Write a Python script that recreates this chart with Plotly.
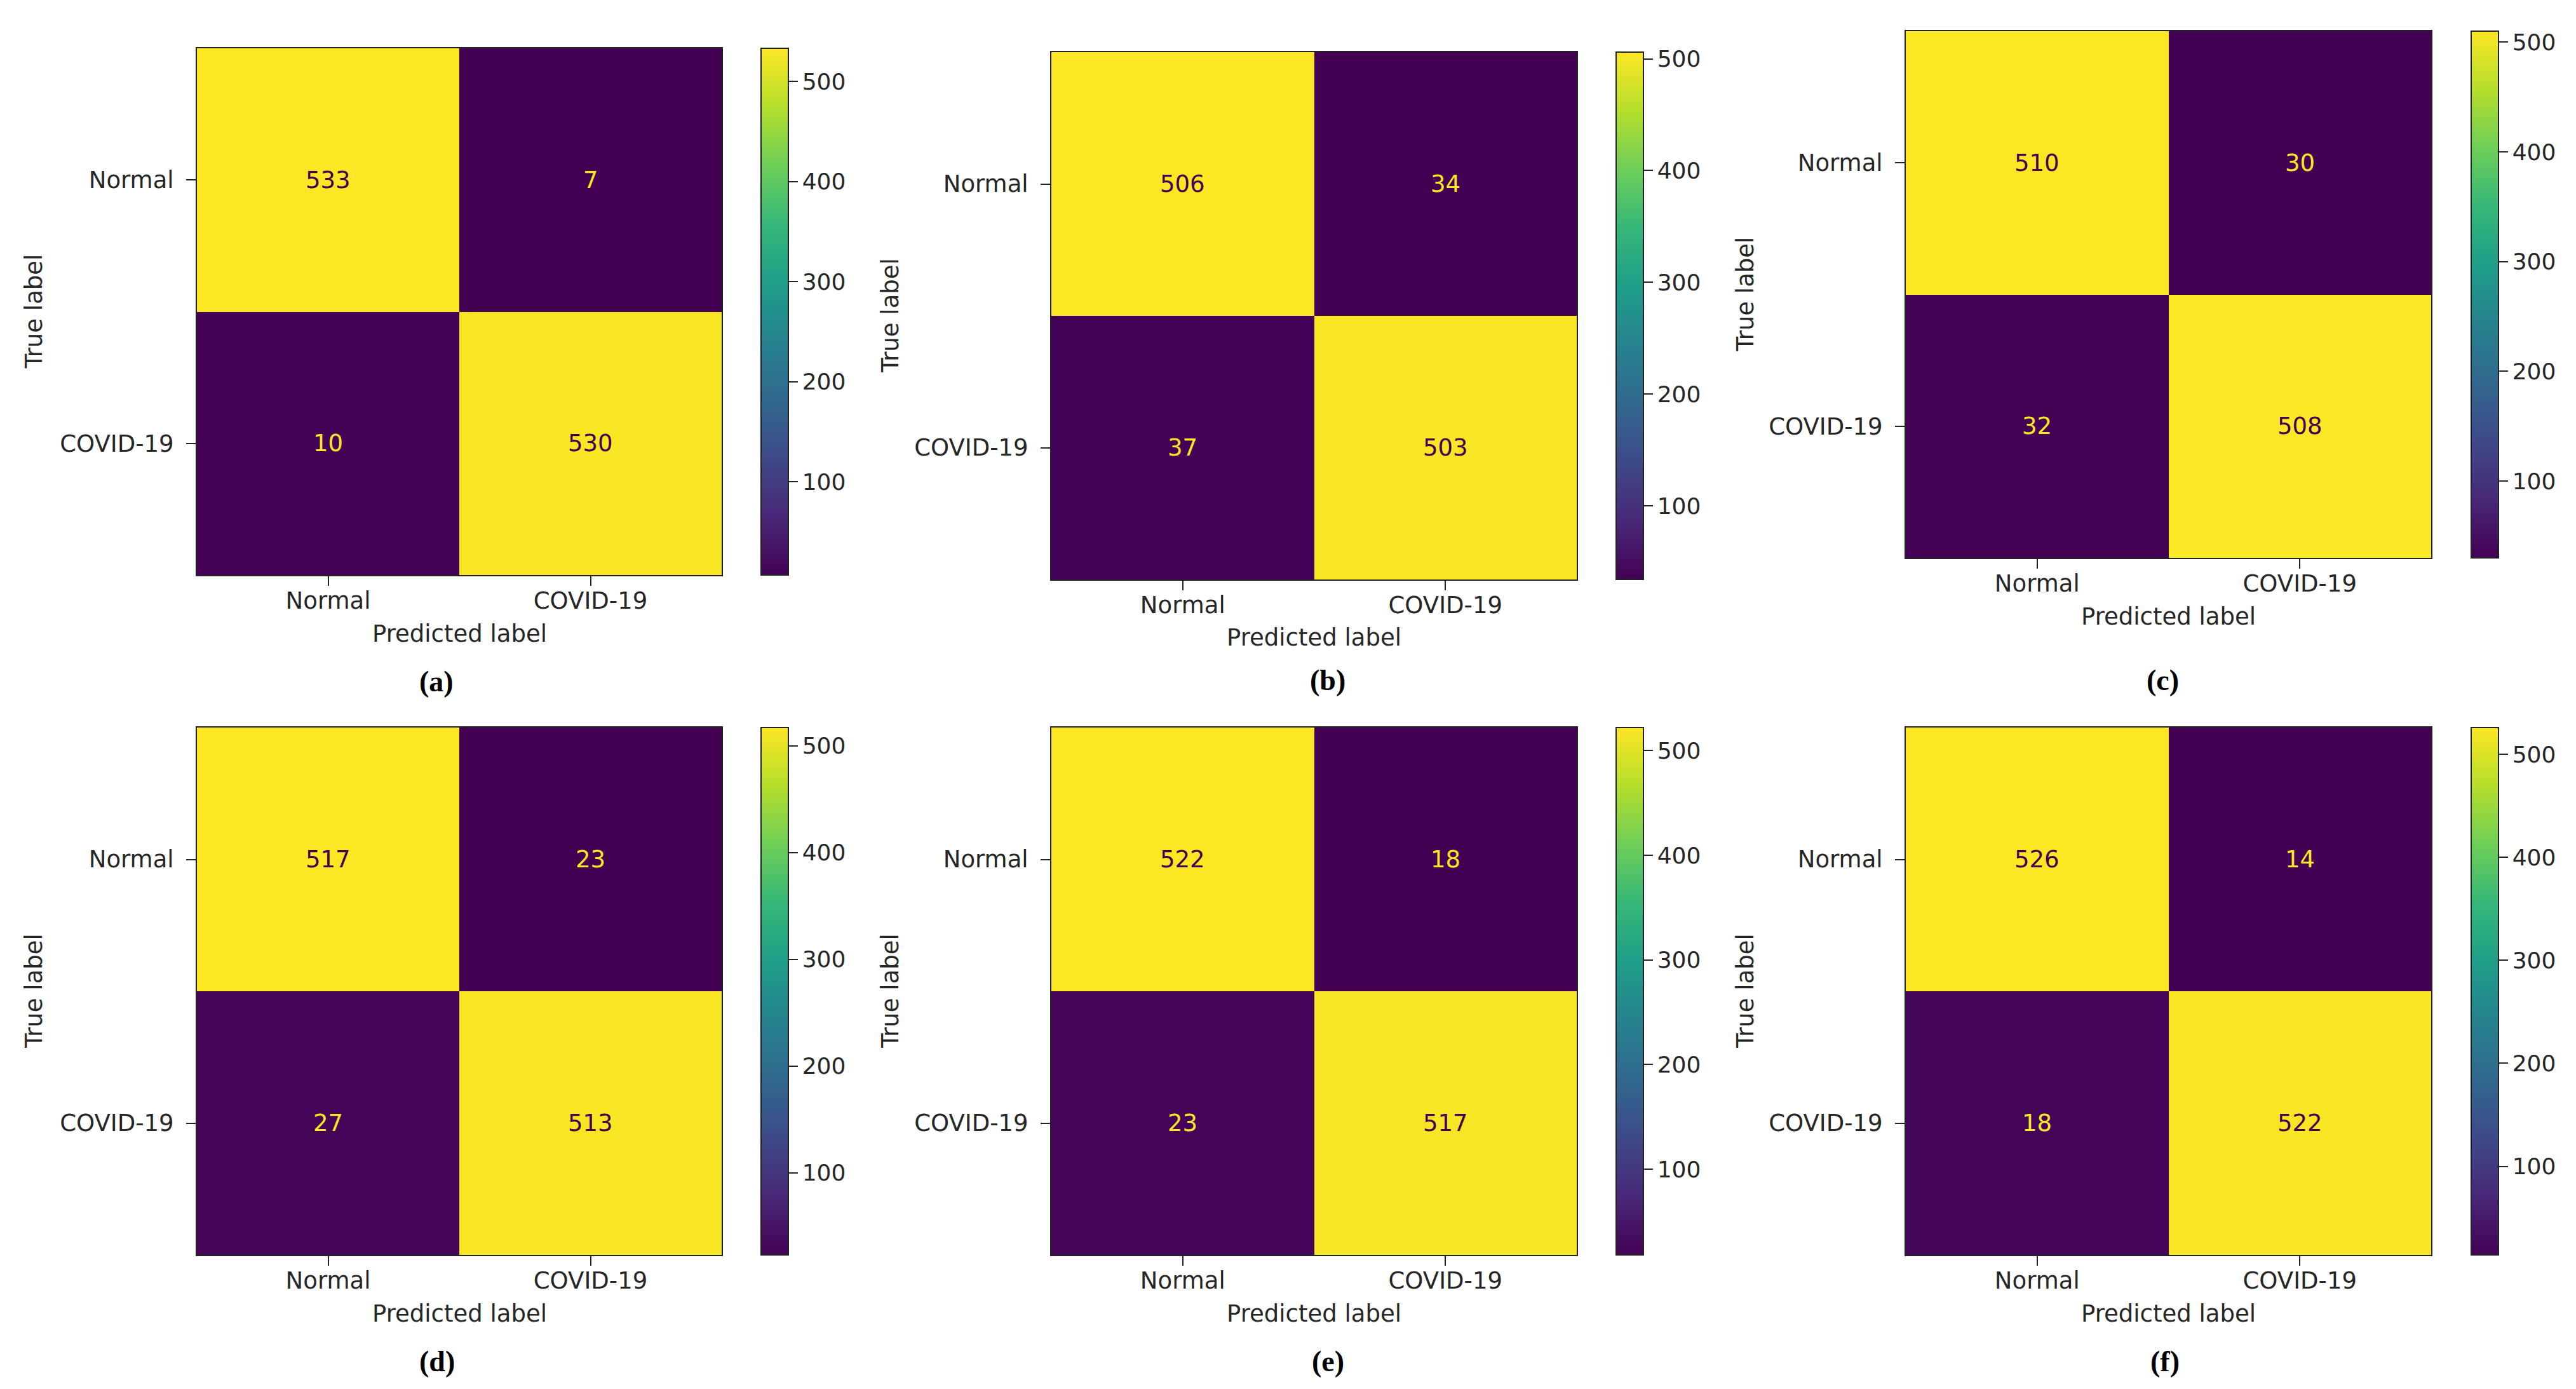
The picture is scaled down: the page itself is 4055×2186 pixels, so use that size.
import plotly.graph_objects as go

# ---- data ----
class_labels = ["Normal", "COVID-19"]
panel_names = ["(a)", "(b)", "(c)", "(d)", "(e)", "(f)"]
cm_a = [[533, 7], [10, 530]]
cm_b = [[506, 34], [37, 503]]
cm_c = [[510, 30], [32, 508]]
cm_d = [[517, 23], [27, 513]]
cm_e = [[522, 18], [23, 517]]
cm_f = [[526, 14], [18, 522]]
colorbar_ticks = [100, 200, 300, 400, 500]
x_title = "Predicted label"
y_title = "True label"

matrices = [cm_a, cm_b, cm_c, cm_d, cm_e, cm_f]

W, H = 4055, 2186
# heatmap boxes in pixels: (left, right, top, bottom)
boxes = [
    (302, 1128, 68, 897),
    (1647, 2474, 74, 904),
    (2992, 3819, 41, 870),
    (302, 1128, 1137, 1967),
    (1647, 2474, 1137, 1967),
    (2992, 3819, 1137, 1967),
]
cbar_left = [1190, 2536, 3882, 1190, 2536, 3882]
label_pos = [(679, 1064), (2082, 1062), (3396, 1062), (680, 2134), (2082, 2134), (3400, 2134)]
ytitle_x = [45, 1393, 2739, 45, 1393, 2739]

FONT = "DejaVu Sans"
TXT = "#262626"
VMIN, VMAX = "#440154", "#fde725"

fig = go.Figure()
annotations = []
layout_axes = {}

def px(x):
    return x / W

def py(y):
    return 1 - y / H

for i, cm in enumerate(matrices):
    l, r, t, b = boxes[i]
    n = "" if i == 0 else str(i + 1)
    xa, ya = "x" + n, "y" + n
    zmin = min(min(row) for row in cm)
    zmax = max(max(row) for row in cm)
    fig.add_trace(go.Heatmap(
        z=cm, x=class_labels, y=class_labels, xaxis=xa, yaxis=ya,
        colorscale="Viridis", zmin=zmin, zmax=zmax, hoverinfo="skip",
        colorbar=dict(
            x=px(cbar_left[i]), xanchor="left", xref="paper",
            y=py(t), yanchor="top", yref="paper",
            len=b - t, lenmode="pixels", thickness=43, thicknessmode="pixels",
            xpad=0, ypad=0, outlinewidth=2, outlinecolor="#222",
            tickvals=colorbar_ticks, ticks="outside", ticklen=14, tickwidth=2, tickcolor="#222",
            tickfont=dict(family=FONT, size=36, color=TXT),
        ),
    ))
    layout_axes["xaxis" + n] = dict(
        domain=[px(l), px(r)], anchor=ya, showgrid=False, zeroline=False,
        showline=True, mirror=True, linecolor="#222", linewidth=2,
        ticks="outside", ticklen=15, tickwidth=2, tickcolor="#222",
        ticklabelstandoff=-8,
        tickfont=dict(family=FONT, size=37, color=TXT), fixedrange=True,
    )
    layout_axes["yaxis" + n] = dict(
        domain=[py(b), py(t)], anchor=xa, showgrid=False, zeroline=False,
        showline=True, mirror=True, linecolor="#222", linewidth=2,
        ticks="outside", ticklen=15, tickwidth=2, tickcolor="#222",
        ticklabelstandoff=12,
        tickfont=dict(family=FONT, size=37, color=TXT), autorange="reversed",
        fixedrange=True,
    )
    # cell values
    mid = (zmin + zmax) / 2
    for ri, row_lab in enumerate(class_labels):
        for ci, col_lab in enumerate(class_labels):
            v = cm[ri][ci]
            annotations.append(dict(
                x=col_lab, y=row_lab, xref=xa, yref=ya, text=str(v), showarrow=False,
                font=dict(family=FONT, size=37, color=VMIN if v > mid else VMAX),
            ))
    # axis titles
    annotations.append(dict(
        x=px((l + r) / 2), y=py(b + 92), xref="paper", yref="paper", text=x_title,
        showarrow=False, xanchor="center", yanchor="middle",
        font=dict(family=FONT, size=37, color=TXT)))
    annotations.append(dict(
        x=px(ytitle_x[i]), y=py((t + b) / 2), xref="paper", yref="paper", text=y_title,
        showarrow=False, xanchor="center", yanchor="middle", textangle=-90,
        font=dict(family=FONT, size=37, color=TXT)))
    # panel label
    lx, ly = label_pos[i]
    annotations.append(dict(
        x=px(lx), y=py(ly), xref="paper", yref="paper", text="<b>" + panel_names[i] + "</b>",
        showarrow=False, xanchor="center", yanchor="middle",
        font=dict(family="Liberation Serif", size=46, color="#000")))

fig.update_layout(
    width=W, height=H, margin=dict(l=0, r=0, t=0, b=0),
    paper_bgcolor="white", plot_bgcolor="white", showlegend=False,
    annotations=annotations, **layout_axes,
)

fig.write_html("out.html")
